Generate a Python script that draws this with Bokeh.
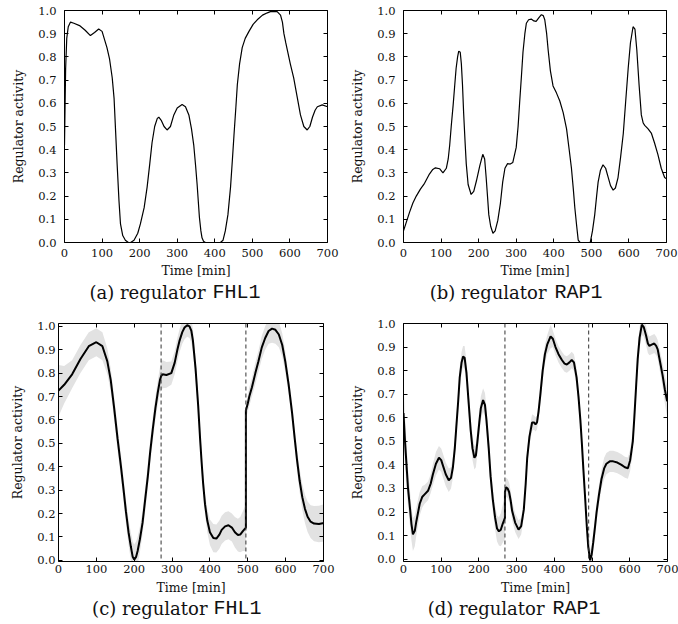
from bokeh.plotting import figure
from bokeh.models import Range1d, LinearAxis, Span, Label, FixedTicker, NumeralTickFormatter
from bokeh.layouts import column, row
from bokeh.embed import file_html
from bokeh.resources import INLINE

# ---------------- data ----------------
x_ticks = [0, 100, 200, 300, 400, 500, 600, 700]
y_ticks = [0.0, 0.1, 0.2, 0.3, 0.4, 0.5, 0.6, 0.7, 0.8, 0.9, 1.0]

# (a) regulator FHL1 - reconstructed profile
a_t = [0, 3, 6, 10, 16, 25, 40, 55, 69, 80, 91, 100, 113, 120, 127, 132, 136, 140, 145, 149,
       155, 162, 170, 176, 185, 195, 202, 212, 220, 227, 233, 240, 247, 251, 258, 265, 273, 282,
       291, 300, 313, 322, 331, 338, 344, 349, 353, 356, 359, 363, 366, 370, 375, 390, 405, 415,
       422, 428, 435, 442, 447, 451, 456, 460, 466, 473, 481, 491, 502, 513, 527, 540, 548, 557,
       566, 575, 580, 584, 589, 593, 601, 610, 619, 628, 637, 646, 653, 660, 667, 673, 686, 700]
a_y = [0.42, 0.75, 0.88, 0.93, 0.95, 0.945, 0.935, 0.915, 0.892, 0.905, 0.92, 0.91, 0.84, 0.79,
       0.71, 0.62, 0.48, 0.34, 0.18, 0.08, 0.03, 0.01, 0.0, 0.0, 0.01, 0.04, 0.08, 0.15, 0.24,
       0.34, 0.43, 0.50, 0.535, 0.54, 0.525, 0.50, 0.485, 0.50, 0.55, 0.58, 0.595, 0.585, 0.55,
       0.49, 0.42, 0.33, 0.25, 0.18, 0.11, 0.05, 0.02, 0.005, 0.0, 0.0, 0.0, 0.0, 0.01, 0.05,
       0.12, 0.24, 0.36, 0.46, 0.58, 0.68, 0.77, 0.84, 0.88, 0.91, 0.94, 0.96, 0.98, 0.99, 0.995,
       0.996, 0.995, 0.98, 0.95, 0.90, 0.86, 0.83, 0.77, 0.71, 0.63, 0.55, 0.50, 0.485, 0.50,
       0.54, 0.57, 0.585, 0.593, 0.585]

# (b) regulator RAP1 - reconstructed profile
b_t = [0, 8, 16, 25, 34, 45, 56, 69, 78, 85, 96, 105, 114, 119, 123, 127, 132, 136, 140, 144,
       147, 151, 154, 157, 160, 164, 167, 172, 180, 187, 194, 203, 211, 216, 220, 224, 227, 232,
       238, 244, 251, 258, 264, 270, 277, 284, 291, 300, 305, 309, 314, 318, 323, 327, 333, 340,
       347, 353, 360, 367, 372, 376, 381, 385, 391, 398, 407, 416, 425, 434, 441, 447, 452, 456,
       461, 465, 470, 480, 497, 503, 509, 514, 518, 524, 531, 538, 545, 551, 558, 564, 571, 578,
       585, 591, 598, 604, 611, 616, 621, 627, 633, 638, 642, 651, 660, 668, 677, 686, 695, 700]
b_y = [0.05, 0.09, 0.13, 0.17, 0.20, 0.23, 0.255, 0.295, 0.315, 0.322, 0.318, 0.30, 0.32, 0.36,
       0.42, 0.50, 0.59, 0.67, 0.75, 0.80, 0.825, 0.82, 0.77, 0.68, 0.56, 0.43, 0.34, 0.25, 0.207,
       0.22, 0.265, 0.33, 0.38, 0.36, 0.28, 0.19, 0.12, 0.07, 0.04, 0.05, 0.095, 0.17, 0.26, 0.32,
       0.34, 0.338, 0.345, 0.41, 0.50, 0.60, 0.72, 0.82, 0.90, 0.945, 0.96, 0.963, 0.955, 0.953,
       0.968, 0.982, 0.978, 0.96, 0.90, 0.83, 0.74, 0.675, 0.645, 0.61, 0.56, 0.49, 0.40, 0.32,
       0.23, 0.15, 0.07, 0.01, 0.0, 0.0, 0.0, 0.05, 0.12, 0.20, 0.26, 0.31, 0.335, 0.32, 0.28,
       0.245, 0.226, 0.235, 0.28, 0.37, 0.47, 0.60, 0.75, 0.86, 0.93, 0.92, 0.83, 0.68, 0.55,
       0.515, 0.505, 0.49, 0.47, 0.43, 0.38, 0.32, 0.28, 0.275]

# (c) regulator FHL1 - estimated mean and band half-width
c_t = [0, 15, 36, 58, 80, 100, 116, 129, 138, 147, 156, 165, 172, 178, 185, 191, 196, 200, 205,
       209, 215, 222, 229, 236, 242, 249, 256, 262, 268, 271, 275, 285, 298, 307, 314, 320, 327,
       333, 340, 346, 351, 355, 362, 369, 374, 378, 382, 387, 393, 400, 409, 417, 425, 431, 440,
       449, 458, 466, 474, 480, 487, 495, 495, 500, 504, 511, 520, 528, 537, 546, 555, 564, 573,
       582, 591, 599, 608, 617, 624, 630, 637, 644, 651, 658, 666, 675, 688, 701, 705]
c_y = [0.725, 0.75, 0.795, 0.86, 0.915, 0.932, 0.915, 0.85, 0.77, 0.65, 0.52, 0.40, 0.30, 0.21,
       0.12, 0.06, 0.015, 0.003, 0.015, 0.04, 0.09, 0.16, 0.26, 0.36, 0.46, 0.56, 0.65, 0.715,
       0.77, 0.787, 0.795, 0.792, 0.80, 0.845, 0.90, 0.94, 0.975, 0.995, 1.005, 1.0, 0.98, 0.94,
       0.82, 0.66, 0.52, 0.42, 0.33, 0.24, 0.17, 0.12, 0.095, 0.093, 0.11, 0.13, 0.145, 0.15,
       0.14, 0.12, 0.108, 0.11, 0.125, 0.14, 0.64, 0.67, 0.70, 0.74, 0.80, 0.85, 0.91, 0.95, 0.98,
       0.99, 0.985, 0.965, 0.92, 0.85, 0.75, 0.63, 0.52, 0.43, 0.34, 0.27, 0.22, 0.186, 0.165,
       0.157, 0.155, 0.16, 0.162]
c_hw = [0.11, 0.08, 0.06, 0.06, 0.06, 0.06, 0.06, 0.055, 0.05, 0.05, 0.05, 0.05, 0.05, 0.05,
        0.055, 0.06, 0.065, 0.065, 0.065, 0.06, 0.055, 0.05, 0.05, 0.05, 0.05, 0.05, 0.05, 0.05,
        0.055, 0.06, 0.06, 0.055, 0.05, 0.05, 0.05, 0.05, 0.05, 0.05, 0.05, 0.05, 0.05, 0.05,
        0.05, 0.045, 0.045, 0.045, 0.045, 0.045, 0.05, 0.055, 0.06, 0.06, 0.06, 0.06, 0.06, 0.06,
        0.06, 0.065, 0.07, 0.075, 0.085, 0.10, 0.035, 0.035, 0.04, 0.04, 0.045, 0.045, 0.05,
        0.05, 0.055, 0.06, 0.06, 0.055, 0.05, 0.045, 0.04, 0.04, 0.04, 0.045, 0.05, 0.055, 0.06,
        0.065, 0.07, 0.075, 0.078, 0.08, 0.08]
c_marks = [271, 495]

# (d) regulator RAP1 - estimated mean and band half-width
d_t = [0, 4, 8, 12, 17, 21, 25, 30, 34, 43, 50, 56, 65, 72, 78, 86, 94, 100, 104, 112, 120, 126,
       131, 136, 140, 145, 149, 154, 158, 162, 167, 172, 178, 183, 188, 192, 196, 201, 205, 211,
       216, 220, 226, 231, 237, 243, 248, 253, 258, 263, 269, 269, 272, 276, 280, 284, 288, 296,
       305, 312, 319, 324, 328, 334, 341, 346, 350, 354, 358, 363, 369, 375, 381, 390, 396, 403,
       411, 420, 427, 433, 440, 446, 452, 459, 464, 469, 473, 477, 482, 486, 490, 495, 499, 503,
       508, 512, 518, 525, 532, 538, 547, 556, 567, 578, 587, 595, 601, 608, 612, 617, 621, 626,
       632, 637, 643, 648, 652, 658, 665, 670, 674, 680, 687, 693, 699]
d_y = [0.62, 0.50, 0.40, 0.30, 0.22, 0.15, 0.105, 0.12, 0.16, 0.235, 0.265, 0.275, 0.29, 0.32,
       0.36, 0.405, 0.43, 0.42, 0.40, 0.36, 0.335, 0.345, 0.39, 0.47, 0.56, 0.67, 0.77, 0.835,
       0.86, 0.855, 0.79, 0.68, 0.55, 0.47, 0.43, 0.44, 0.50, 0.58, 0.64, 0.675, 0.655, 0.59,
       0.47, 0.35, 0.25, 0.175, 0.13, 0.118, 0.125, 0.15, 0.175, 0.285, 0.305, 0.30, 0.285,
       0.25, 0.205, 0.155, 0.125, 0.14, 0.21, 0.32, 0.43, 0.52, 0.58, 0.58, 0.572, 0.58, 0.625,
       0.70, 0.80, 0.87, 0.91, 0.945, 0.935, 0.90, 0.87, 0.845, 0.83, 0.826, 0.835, 0.845, 0.835,
       0.77, 0.69, 0.59, 0.49, 0.38, 0.25, 0.14, 0.05, -0.005, 0.02, 0.07, 0.14, 0.20, 0.27,
       0.34, 0.385, 0.405, 0.415, 0.415, 0.41, 0.40, 0.39, 0.386, 0.42, 0.50, 0.60, 0.74, 0.85,
       0.94, 0.995, 0.985, 0.95, 0.915, 0.905, 0.91, 0.915, 0.905, 0.89, 0.84, 0.78, 0.72, 0.67]
d_hw = [0.13, 0.11, 0.09, 0.08, 0.075, 0.07, 0.07, 0.065, 0.06, 0.05, 0.045, 0.04, 0.04, 0.04,
        0.045, 0.05, 0.05, 0.05, 0.05, 0.05, 0.05, 0.045, 0.045, 0.045, 0.045, 0.045, 0.045,
        0.045, 0.045, 0.05, 0.05, 0.05, 0.05, 0.05, 0.05, 0.05, 0.05, 0.05, 0.05, 0.05, 0.05,
        0.05, 0.05, 0.05, 0.05, 0.05, 0.055, 0.06, 0.07, 0.08, 0.09, 0.04, 0.04, 0.04, 0.04,
        0.04, 0.04, 0.04, 0.04, 0.035, 0.035, 0.035, 0.035, 0.035, 0.035, 0.03, 0.03, 0.03, 0.03,
        0.04, 0.04, 0.04, 0.04, 0.05, 0.035, 0.035, 0.035, 0.035, 0.035, 0.035, 0.035, 0.035,
        0.035, 0.04, 0.04, 0.04, 0.04, 0.04, 0.04, 0.04, 0.04, 0.045, 0.04, 0.04, 0.04, 0.04,
        0.04, 0.04, 0.045, 0.045, 0.045, 0.045, 0.045, 0.045, 0.045, 0.045, 0.045, 0.045, 0.045,
        0.045, 0.045, 0.045, 0.045, 0.04, 0.04, 0.04, 0.04, 0.04, 0.04, 0.04, 0.04, 0.045, 0.05,
        0.06, 0.065]
d_marks = [269, 491]

captions = [("(a) regulator", "FHL1"), ("(b) regulator", "RAP1"),
            ("(c) regulator", "FHL1"), ("(d) regulator", "RAP1")]

SERIF = "DejaVu Serif"
MONO = "Liberation Mono"
FIG_W = 339


def style_axis(ax, labels=True, standoff=6):
    ax.axis_line_color = "black"
    ax.axis_line_width = 1
    ax.major_tick_in = 4
    ax.major_tick_out = 0
    ax.minor_tick_line_color = None
    ax.major_tick_line_color = "black"
    if labels:
        ax.major_label_text_font = SERIF
        ax.major_label_text_font_size = "11.5px"
        ax.major_label_text_color = "#111111"
        ax.major_label_standoff = standoff
    else:
        ax.major_label_text_font_size = "0px"
        ax.major_label_text_color = None
        ax.major_label_standoff = 0


def make_panel(height, bl, br, bt, bb, yr, xstand, ystand, xlab_stand):
    p = figure(width=FIG_W, height=height, x_range=Range1d(0, 700), y_range=Range1d(*yr),
               output_backend="svg", toolbar_location=None,
               min_border_left=bl, min_border_right=br, min_border_top=bt, min_border_bottom=bb)
    p.xgrid.visible = False
    p.ygrid.visible = False
    p.outline_line_color = None
    p.background_fill_color = "white"
    p.border_fill_color = "white"
    p.xaxis.ticker = FixedTicker(ticks=x_ticks)
    p.yaxis.ticker = FixedTicker(ticks=y_ticks)
    p.yaxis.formatter = NumeralTickFormatter(format="0.0")
    style_axis(p.xaxis[0], True, xstand)
    style_axis(p.yaxis[0], True, ystand)
    p.xaxis.axis_label = "Time [min]"
    p.yaxis.axis_label = "Regulator activity"
    for ax in (p.xaxis[0], p.yaxis[0]):
        ax.axis_label_text_font = SERIF
        ax.axis_label_text_font_size = "12.5px"
        ax.axis_label_text_font_style = "normal"
        ax.axis_label_text_color = "#111111"
    p.xaxis.axis_label_standoff = xlab_stand
    p.yaxis.axis_label_standoff = 9
    top = LinearAxis(ticker=FixedTicker(ticks=x_ticks))
    right = LinearAxis(ticker=FixedTicker(ticks=y_ticks))
    style_axis(top, False)
    style_axis(right, False)
    p.add_layout(top, "above")
    p.add_layout(right, "right")
    return p


def caption_fig(height, cap, xs, xm, base):
    # caption strip; its frame is aligned with the panel frame above it
    c = figure(width=FIG_W, height=height, x_range=Range1d(0, 1), y_range=Range1d(0, 1),
               x_axis_type=None, y_axis_type=None, output_backend="svg", toolbar_location=None,
               min_border=0)
    c.outline_line_color = None
    c.xgrid.visible = False
    c.ygrid.visible = False
    c.add_layout(Label(x=xs, y=base, x_units="screen", y_units="screen", text=cap[0],
                       text_font=SERIF, text_font_size="18px", text_align="right",
                       text_baseline="alphabetic", text_color="#111111"))
    c.add_layout(Label(x=xm, y=base, x_units="screen", y_units="screen", text=cap[1],
                       text_font=MONO, text_font_size="20px", text_align="left",
                       text_baseline="alphabetic", text_color="#111111"))
    return c


def band(p, t, y, hw):
    n = min(len(t), len(y), len(hw))
    lo = [y[i] - hw[i] for i in range(n)]
    hi = [y[i] + hw[i] for i in range(n)]
    p.varea(x=t[:n], y1=lo, y2=hi, fill_color="#e2e2e2", fill_alpha=1.0)


# (a)  frame 64..327 x 10..242
pa = make_panel(280, 64, 12, 10, 38, (0.0, 1.0), 6, 8, 3)
na = min(len(a_t), len(a_y))
pa.line(a_t[:na], a_y[:na], line_color="black", line_width=1.2)
ca = caption_fig(32, captions[0], 141, 148, 20)

# (b)  frame 403..666
pb = make_panel(280, 64, 12, 10, 38, (0.0, 1.0), 6, 8, 3)
nb = min(len(b_t), len(b_y))
pb.line(b_t[:nb], b_y[:nb], line_color="black", line_width=1.2)
cb = caption_fig(32, captions[1], 143, 151, 20)

# (c)  frame 58..323 x 323..561
pc = make_panel(286, 58, 16, 11, 37, (-0.005, 1.012), 3, 3, 4)
band(pc, c_t, c_y, c_hw)
nc = min(len(c_t), len(c_y))
pc.line(c_t[:nc], c_y[:nc], line_color="black", line_width=2)
for m in c_marks:
    pc.add_layout(Span(location=m, dimension="height", line_color="#333333",
                       line_dash="4 3", line_width=1))
cc = caption_fig(26, captions[2], 149, 155, 16)

# (d)  frame 403..667
pd_ = make_panel(286, 64, 11, 11, 37, (-0.01, 1.0), 3, 8, 4)
band(pd_, d_t, d_y, d_hw)
nd = min(len(d_t), len(d_y))
pd_.line(d_t[:nd], d_y[:nd], line_color="black", line_width=2)
for m in d_marks:
    pd_.add_layout(Span(location=m, dimension="height", line_color="#333333",
                        line_dash="4 3", line_width=1))
cd = caption_fig(26, captions[3], 141, 149, 16)

layout = column(row(column(pa, ca), column(pb, cb)), row(column(pc, cc), column(pd_, cd)))
open("out.html", "w").write(file_html(layout, INLINE))
